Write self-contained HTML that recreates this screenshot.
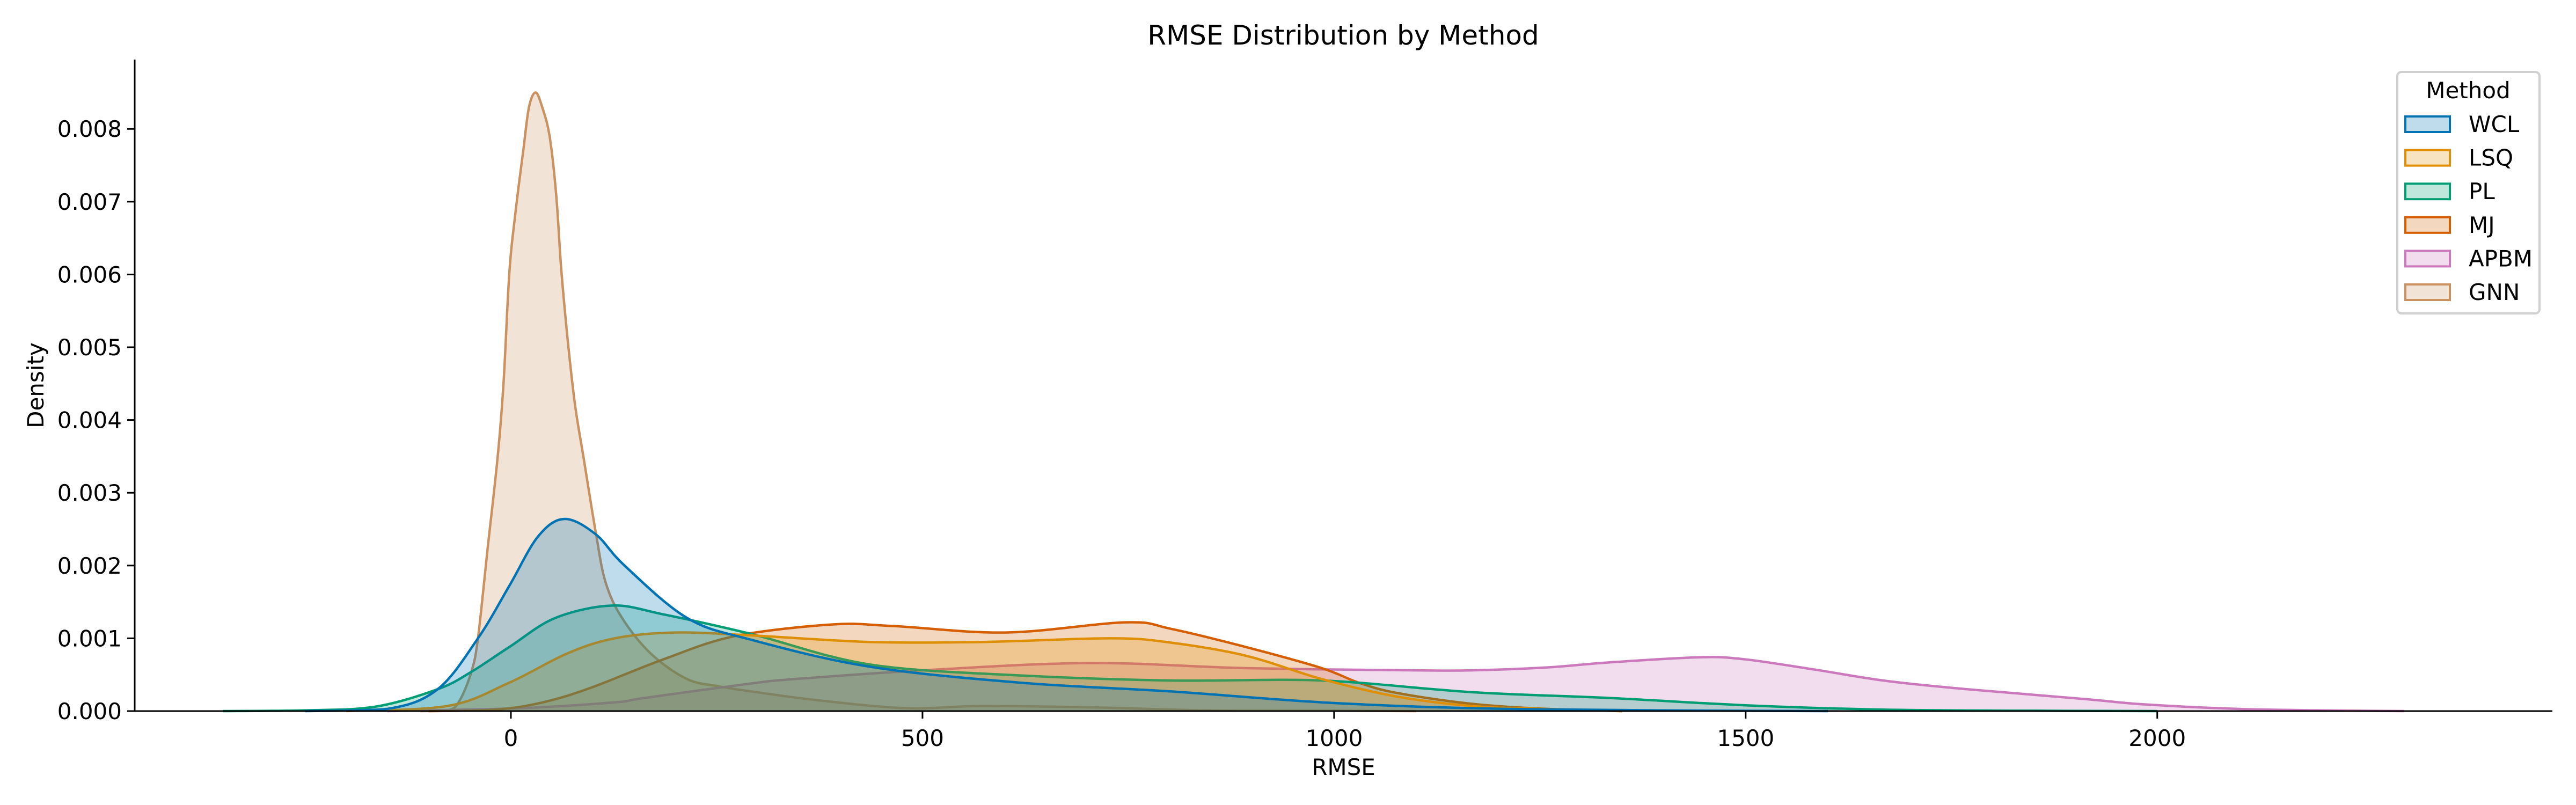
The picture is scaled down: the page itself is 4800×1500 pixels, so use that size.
<!DOCTYPE html>
<html><head><meta charset="utf-8"><style>
html,body{margin:0;padding:0;background:#fff;}
svg{display:block;font-family:"DejaVu Sans","Liberation Sans",sans-serif;}
</style></head><body>
<svg id="chart" width="4800" height="1500" viewBox="0 0 4800 1500" xmlns="http://www.w3.org/2000/svg">
<rect width="4800" height="1500" fill="#fff"/>
<text x="2503" y="83" font-size="50" text-anchor="middle">RMSE Distribution by Method</text>
<g id="series"></g>
<g id="axes"></g>
<g id="legend"></g>
</svg>
<script>
const seriesNames = ["WCL","LSQ","PL","MJ","APBM","GNN"];
const seriesColors = ["#0173b2","#de8f05","#029e73","#d55e00","#cc78bc","#ca9161"];
const wclX = [-250,-150,-89,-40,-2,33,65,103,138,214,292,436,619,802,985,1167,1400,1600];
const wclY = [0,0.00003,0.0003,0.001,0.00172,0.0024,0.00264,0.00243,0.002,0.00128,0.00098,0.00061,0.00039,0.00027,0.00012,0.00004,0.00001,0];
const lsqX = [-200,-77,-2,68,126,199,292,436,573,729,802,893,985,1076,1167,1250,1350];
const lsqY = [0,0.00007,0.00039,0.00079,0.001,0.00108,0.00104,0.00095,0.00095,0.001,0.00094,0.00076,0.00044,0.0002,0.00007,0.00003,0];
const plX = [-350,-250,-165,-89,-48,-2,54,123,185,292,436,619,802,985,1167,1335,1500,1667,1850,2000];
const plY = [0,0.00001,0.00006,0.0003,0.00054,0.00088,0.00128,0.00145,0.00133,0.00106,0.00064,0.00049,0.00042,0.00042,0.00026,0.00018,0.00008,0.00002,0.000005,0];
const mjX = [-100,-19,39,97,185,272,390,463,601,747,802,893,985,1030,1076,1167,1259,1350];
const mjY = [0,0.00002,0.00012,0.00032,0.00071,0.00103,0.00119,0.00117,0.00108,0.00122,0.00113,0.00088,0.00059,0.00039,0.00025,0.0001,0.00003,0];
const apbmX = [-150,10,126,162,292,345,500,702,893,1100,1167,1259,1335,1445,1500,1584,1667,1750,1833,1917,1987,2097,2197,2300];
const apbmY = [0,0.00004,0.00012,0.00018,0.00038,0.00044,0.00056,0.00066,0.00059,0.00056,0.00056,0.0006,0.00067,0.00074,0.00071,0.00057,0.00042,0.00032,0.00024,0.00016,0.00009,0.00003,0.00001,0];
const gnnX = [-110,-77,-63,-48,-40,-28,-16,-9,-2,5,15,22,30,38,47,55,61,69,78,88,103,115,135,170,214,253,292,372,480,573,710,847,1000,1100];
const gnnY = [0,0.00001,0.00013,0.00054,0.001,0.00226,0.0035,0.0045,0.006,0.0068,0.0077,0.0083,0.0085,0.0083,0.0079,0.0071,0.0061,0.0051,0.0042,0.0035,0.00246,0.00177,0.00128,0.00079,0.00044,0.00034,0.00027,0.00015,0.00004,0.00007,0.00005,0.00001,0.000005,0];
const xTicks = [0,500,1000,1500,2000];
const yTicks = [0,0.001,0.002,0.003,0.004,0.005,0.006,0.007,0.008];

const seriesXs = [wclX,lsqX,plX,mjX,apbmX,gnnX];
const seriesYs = [wclY,lsqY,plY,mjY,apbmY,gnnY];
const L=251,R=4756,T=111,B=1325;
const x0=-457,x1=2480,y0=0,y1=0.008953;
const sx=v=>L+(v-x0)/(x1-x0)*(R-L);
const sy=v=>B-(v-y0)/(y1-y0)*(B-T);
const NS="http://www.w3.org/2000/svg";
function mk(tag,attrs,parent){const e=document.createElementNS(NS,tag);for(const k in attrs)e.setAttribute(k,attrs[k]);parent.appendChild(e);return e;}
function smooth(pts){
  let d=`M${pts[0][0].toFixed(1)},${pts[0][1].toFixed(1)}`;
  for(let i=0;i<pts.length-1;i++){
    const p0=pts[Math.max(0,i-1)],p1=pts[i],p2=pts[i+1],p3=pts[Math.min(pts.length-1,i+2)];
    const c1x=p1[0]+(p2[0]-p0[0])/6,c1y=Math.min(B,p1[1]+(p2[1]-p0[1])/6);
    const c2x=p2[0]-(p3[0]-p1[0])/6,c2y=Math.min(B,p2[1]-(p3[1]-p1[1])/6);
    d+=`C${c1x.toFixed(1)},${c1y.toFixed(1)} ${c2x.toFixed(1)},${c2y.toFixed(1)} ${p2[0].toFixed(1)},${p2[1].toFixed(1)}`;
  }
  return d;
}
const sg=document.getElementById('series');
for(let s=seriesNames.length-1;s>=0;s--){
  const pts=seriesXs[s].map((xv,i)=>[sx(xv),sy(seriesYs[s][i])]);
  const line=smooth(pts);
  const f=mk('path',{d:line+`L${pts[pts.length-1][0]},${B}L${pts[0][0]},${B}Z`,fill:seriesColors[s],'fill-opacity':0.25,stroke:'none'},sg);
  
  
  const l=mk('path',{d:line,fill:'none',stroke:seriesColors[s],'stroke-width':4.5,'stroke-linejoin':'round'},sg);
  
  
}
const ag=document.getElementById('axes');
const ya=mk('line',{x1:L,y1:T,x2:L,y2:B+1.5,stroke:'#000','stroke-width':3},ag);


const xa=mk('line',{x1:L-1.5,y1:B,x2:R,y2:B,stroke:'#000','stroke-width':3},ag);


yTicks.forEach(v=>{
  const t=mk('line',{x1:L-14,y1:sy(v),x2:L,y2:sy(v),stroke:'#000','stroke-width':3},ag);
  
  
  const tx=mk('text',{x:L-24,y:sy(v)+15,'font-size':42,'text-anchor':'end'},ag);
  tx.textContent=v.toFixed(3);
  
  
});
xTicks.forEach(v=>{
  const t=mk('line',{x1:sx(v),y1:B,x2:sx(v),y2:B+14,stroke:'#000','stroke-width':3},ag);
  
  
  const tx=mk('text',{x:sx(v),y:B+65,'font-size':42,'text-anchor':'middle'},ag);
  tx.textContent=String(v);
  
  
});
const xl=mk('text',{x:(L+R)/2,y:1444,'font-size':42,'text-anchor':'middle'},ag);
xl.textContent='RMSE';


const yl=mk('text',{x:0,y:0,'font-size':42,'text-anchor':'middle',transform:`translate(81,${(T+B)/2}) rotate(-90)`},ag);
yl.textContent='Density';


const lg=document.getElementById('legend');
const box=mk('rect',{x:4467,y:134,width:265,height:450,rx:8,fill:'#fff','fill-opacity':0.8,stroke:'#d0d0d0','stroke-width':4},lg);


const lt=mk('text',{x:4599,y:183,'font-size':42,'text-anchor':'middle'},lg);
lt.textContent='Method';


seriesNames.forEach((n,i)=>{
  const cy=231+i*62.6;
  const g=mk('g',{},lg);
  
  
  mk('rect',{x:4482,y:cy-14,width:83,height:29,fill:'#fff',stroke:'none'},g);
  mk('rect',{x:4482,y:cy-14,width:83,height:29,fill:seriesColors[i],'fill-opacity':0.25,stroke:seriesColors[i],'stroke-width':4},g);
  const t=mk('text',{x:4600,y:cy+15,'font-size':42},g);
  t.textContent=n;
});
</script>
</body></html>
